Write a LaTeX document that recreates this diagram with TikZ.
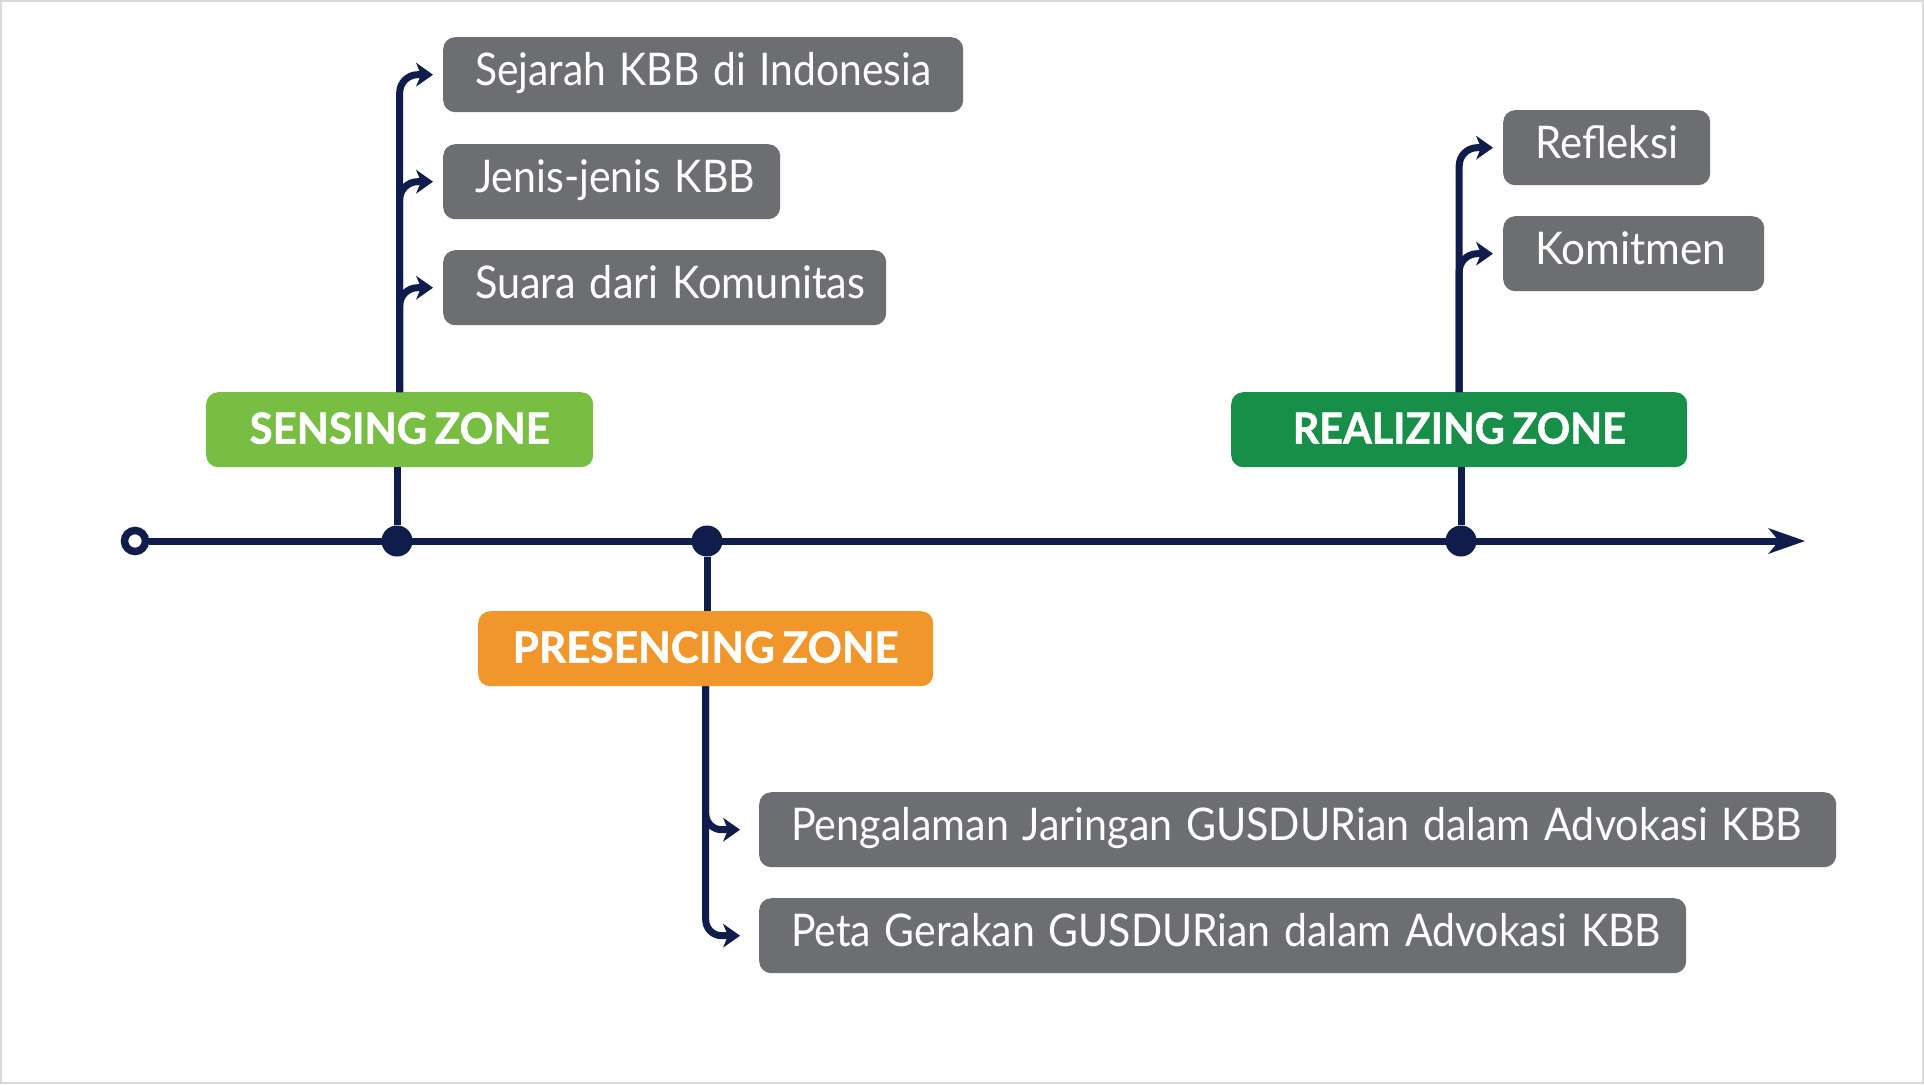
\documentclass[tikz,border=0pt]{standalone}
\usepackage{fontspec}
\setmainfont[WordSpace=0.75, BoldFeatures={FakeBold=1.2}]{Lato}
\usetikzlibrary{arrows.meta}
\definecolor{navy}{HTML}{0F1C4C}
\definecolor{boxgray}{HTML}{6D6E71}
\definecolor{lightgreen}{HTML}{78BE43}
\definecolor{darkgreen}{HTML}{178F48}
\definecolor{zoneorange}{HTML}{F1962B}
\definecolor{framegray}{HTML}{D9D9D9}
\newcommand\gtext[2]{\hspace*{32pt}\resizebox{#1}{\height}{#2}}
\newcommand\ztext[2]{\resizebox{#1}{\height}{#2}}
\begin{document}
\begin{tikzpicture}[x=1pt,y=-1pt,
  graybox/.style={fill=boxgray, text=white, rounded corners=12pt, anchor=north west,
    minimum height=75pt, inner xsep=0pt, inner ysep=0pt, text width=#1, align=left,
    text height=33pt, text depth=12pt, font=\fontsize{45}{50}\selectfont},
  zonebox/.style={fill=#1, text=white, rounded corners=12pt, anchor=north west,
    minimum height=75pt, inner sep=0pt, text height=32pt, text depth=4pt,
    font=\fontsize{43}{50}\selectfont\bfseries},
  dotnode/.style={circle, fill=navy, minimum size=31pt, inner sep=0pt},
  opendot/.style={circle, draw=navy, fill=white, line width=7.5pt, minimum size=21pt, inner sep=0pt},
  tline/.style={draw=navy, line width=7pt},
  branch/.style={draw=navy, line width=7pt, rounded corners=18pt,
    -{Stealth[length=17pt, width=24pt, inset=5pt, line width=0pt]}},
  mainarrow/.style={draw=navy, line width=7pt,
    -{Stealth[length=37pt, width=26pt, inset=11pt, line width=0pt]}}
]
\useasboundingbox (0,0) rectangle (1924,1084);
\fill[white] (0,0) rectangle (1924,1084);
\draw[framegray, line width=2pt] (1,1) rectangle (1923,1083);

% item boxes
\node[graybox=520pt] (s1) at (443,37) {\gtext{456pt}{Sejarah KBB di Indonesia}};
\node[graybox=337pt] (s2) at (443,144) {\gtext{280pt}{Jenis-jenis KBB}};
\node[graybox=443pt] (s3) at (443,250) {\gtext{390pt}{Suara dari Komunitas}};
\node[graybox=207pt] (r1) at (1503,110) {\gtext{143pt}{Refleksi}};
\node[graybox=261pt] (r2) at (1503,216) {\gtext{191pt}{Komitmen}};
\node[graybox=1077pt] (p1) at (759,792) {\gtext{1011pt}{Pengalaman Jaringan GUSDURian dalam Advokasi KBB}};
\node[graybox=927pt] (p2) at (759,898) {\gtext{870pt}{Peta Gerakan GUSDURian dalam Advokasi KBB}};

% zone boxes
\node[zonebox=lightgreen, minimum width=387pt] (sz) at (206,392) {\ztext{300pt}{SENSING ZONE}};
\node[zonebox=darkgreen, minimum width=456pt] (rz) at (1231,392) {\ztext{333pt}{REALIZING ZONE}};
\node[zonebox=zoneorange, minimum width=455pt] (pz) at (478,611) {\ztext{386pt}{PRESENCING ZONE}};

% timeline
\node[opendot] (o) at (135,541) {};
\coordinate (tip) at (1805,541);
\draw[mainarrow] (o) -- (tip);
\node[dotnode] (ds) at (397,541) {};
\node[dotnode] (dp) at (707,541) {};
\node[dotnode] (dr) at (1461,541) {};

% stems
\draw[tline] (ds) -- (ds |- sz.south);
\draw[tline] (dp) -- (dp |- pz.north);
\draw[tline] (dr) -- (dr |- rz.south);

% branches
\draw[branch, shorten >=10pt] (sz.north) |- (s1.west);
\draw[branch, shorten >=10pt] (sz.north) |- (s2.west);
\draw[branch, shorten >=10pt] (sz.north) |- (s3.west);
\draw[branch, shorten >=10pt] (rz.north) |- (r1.west);
\draw[branch, shorten >=10pt] (rz.north) |- (r2.west);
\draw[branch, rounded corners=16pt, shorten >=19pt] (pz.south) |- (p1.west);
\draw[branch, rounded corners=16pt, shorten >=19pt] (pz.south) |- (p2.west);
\end{tikzpicture}
\end{document}
